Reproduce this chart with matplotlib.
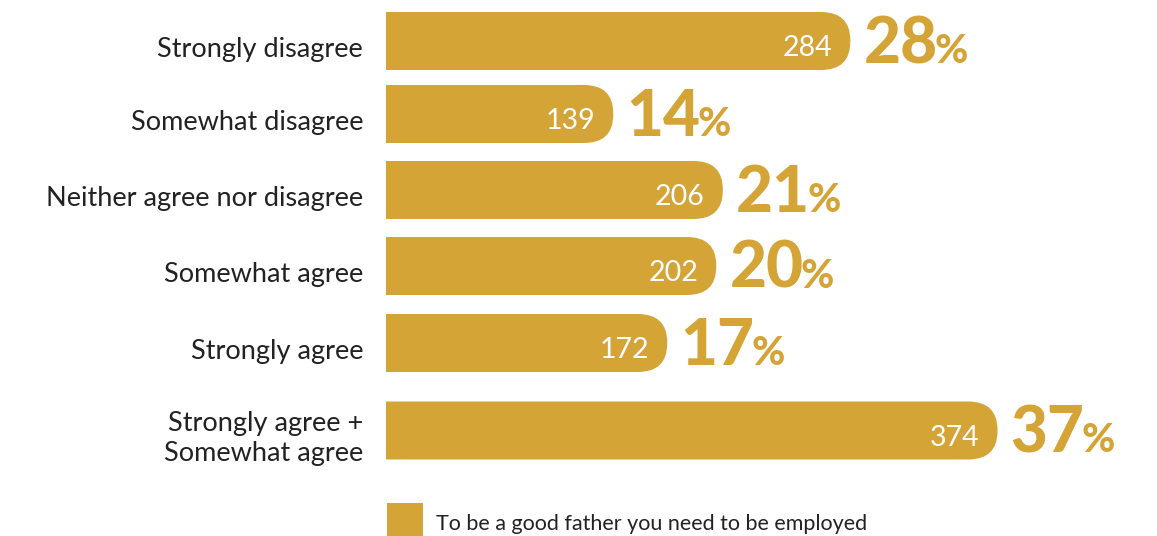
import numpy as np
import matplotlib.pyplot as plt
from matplotlib.patches import FancyBboxPatch, Rectangle

categories = ["Strongly disagree", "Somewhat disagree", "Neither agree nor disagree",
              "Somewhat agree", "Strongly agree", "Strongly agree +\nSomewhat agree"]
counts = [284, 139, 206, 202, 172, 374]
percents = [28, 14, 21, 20, 17, 37]
legend_label = "To be a good father you need to be employed"

gold = "#D5A437"
W, H = 1157, 536
px_per_unit = 1.635
x0 = 386

fig = plt.figure(figsize=(W / 100, H / 100), dpi=100)
ax = fig.add_axes([x0 / W, 0, (W - x0) / W, 1])
ax.set_xlim(0, (W - x0) / px_per_unit)
ax.set_ylim(H, 0)
ax.axis("off")

# row centres (pixels), extra gap before the combined row
ypos = np.array([41, 114, 190, 266, 343, 430.5])
bar_h = 58
r = 18.0  # horizontal rounding, data units
aspect = 29.0 / r * 0.98

font = "Lato"
for y, c, p, lab in zip(ypos, counts, percents, categories):
    box = FancyBboxPatch((-50, y - bar_h / 2), c + 50, bar_h,
                         boxstyle=f"round,pad=0,rounding_size={r}",
                         mutation_aspect=aspect, fc=gold, ec="none", clip_on=True)
    ax.add_patch(box)
    ax.text(c - 11, y + 15, str(c), color="white", ha="right", va="baseline",
            fontsize=20.5, family=font)
    t = ax.text(c + 8, y + 22, str(p), color=gold, ha="left", va="baseline",
                fontsize=46, family=font, fontweight="black")
    ax.annotate("%", xy=(1, y + 22), xycoords=(t, "data"), xytext=(-2, 0),
                textcoords="offset points", ha="left", va="baseline", color=gold,
                fontsize=29, family=font, fontweight="black")
    ax.annotate(lab, xy=(0, y), xytext=(-16.5, -6), textcoords="offset points",
                ha="right", va="center", multialignment="right", fontsize=19.5,
                family=font, color="#222222", linespacing=1.25)

# legend swatch + label
fig.add_artist(Rectangle((387 / W, 1 - 539 / H), 36 / W, 36 / H, fc=gold, ec="none",
                         transform=fig.transFigure))
fig.text(436 / W, 1 - 524 / H, legend_label, ha="left", va="center", fontsize=15.5,
         family=font, color="#222222")

fig.savefig("out.png", dpi=100)
